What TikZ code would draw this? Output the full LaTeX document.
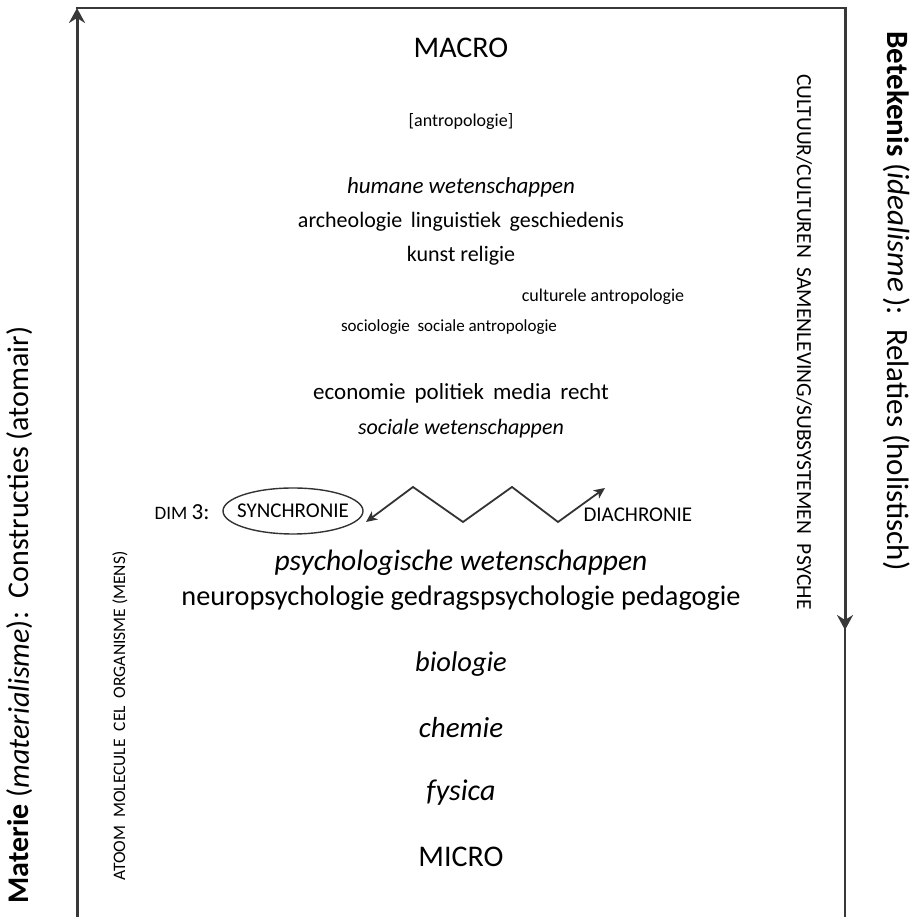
\documentclass[tikz,border=0pt]{standalone}
\usepackage{fontspec}
\setmainfont{Carlito}
\usetikzlibrary{calc, arrows.meta}

\begin{document}
\begin{tikzpicture}[x=1pt, y=1pt,
		fs/.style={font=\fontsize{#1}{#1}\selectfont},
		sci/.style={font=\fontsize{#1}{#1}\selectfont\itshape},
		bigtip/.style={-{Stealth[length=15pt, width=16pt, inset=5pt]}},
		smalltip/.style={{Stealth[length=11pt, width=10pt, inset=3pt]}-{Stealth[length=11pt, width=10pt, inset=3pt]}}]
				\def\xMIN{77};
				\def\xMAX{845};
				\def\yMAX{909};
				\def\xMID{461};
		
				\useasboundingbox (0,0) rectangle (916,917);
		
				\begin{scope}[black!78, line width=3pt]
					\coordinate (bl) at (\xMIN,0);
					\coordinate (tl) at (\xMIN,\yMAX);
					\coordinate (tr) at (\xMAX,\yMAX);
					\coordinate (mr) at (\xMAX,287);
					\coordinate (br) at (\xMAX,0);
					\draw [bigtip] (bl) -- (tl);
					\draw [line width=2.2pt] (\xMIN-1.5,\yMAX) -- (tr);
					\draw [bigtip] ($(tr)+(0,1.1)$) -- (mr);
					\draw [line width=1.6pt] ($(mr)+(0,8)$) -- (br);
				\end{scope}
		
				\node [fs=30] (macro) at (\xMID,869) {MACRO};
				\node [fs=18] (antro) at (\xMID,795) {[antropologie]};
				\node [sci=23] (hum) at (\xMID,730) {humane wetenschappen};
				\node [fs=22] (arch) at (\xMID,695) {archeologie\, linguistiek\, geschiedenis};
				\node [fs=22] (kunst) at (\xMID,661) {kunst religie};
				\node [fs=18] (cult) at (603,620) {culturele antropologie};
				\node [fs=17] (soc) at (449,590) {sociologie\ \ sociale antropologie};
				\node [fs=23] (eco) at (\xMID,524) {economie\, politiek\, media\, recht};
				\node [sci=22] (sw) at (\xMID,488) {sociale wetenschappen};
		
				\node [fs=19, anchor=east] (dim) at (213,405) {DIM \fontsize{23}{23}\selectfont 3:};
				\node [fs=21] (syn) at (293,406) {SYNCHRONIE};
				\draw [black!80, line width=1.4pt] (syn.center) ellipse [x radius=70, y radius=23];
				\node [fs=21, anchor=west] (dia) at (580,402) {DIACHRONIE};
		
				\begin{scope}[black!80, line width=1.8pt]
					\coordinate (z0) at (366,395);
					\coordinate (z1) at (413,430);
					\coordinate (z2) at (463,395);
					\coordinate (z3) at (512,430);
					\coordinate (z4) at (558,395);
					\coordinate (z5) at (605,429);
					\draw [smalltip] (z0) -- (z1) -- (z2) -- (z3) -- (z4) -- (z5);
				\end{scope}
		
				\node [sci=29.5] (psy) at (\xMID,354) {psychologische wetenschappen};
				\node [fs=28.3] (neuro) at (\xMID,319) {neuropsychologie gedragspsychologie pedagogie};
				\node [sci=28.5] (bio) at (\xMID,253) {biologie};
				\node [sci=29] (chem) at (\xMID,189) {chemie};
				\node [sci=30] (fys) at (\xMID,124) {fysica};
				\node [fs=30] (micro) at (\xMID,60) {MICRO};
		
				\node [fs=17.5, rotate=90] (atoom) at (120,201) {ATOOM\ \ MOLECULE\ \ CEL\ \ ORGANISME (MENS)};
				\node [fs=21.5, rotate=-90] (cultuur) at (804,575) {CULTUUR/CULTUREN\ \ SAMENLEVING/SUBSYSTEMEN\ \ PSYCHE};
				\node [fs=30, rotate=90] (materie) at (20,302) {\textbf{Materie} (\textit{materialisme}):\ \ Constructies (atomair)};
				\node [fs=31, rotate=-90] (betek) at (897,616) {\textbf{Betekenis} (\textit{idealisme}\,):\ \ Relaties (holistisch)};
			\end{tikzpicture}
\end{document}
